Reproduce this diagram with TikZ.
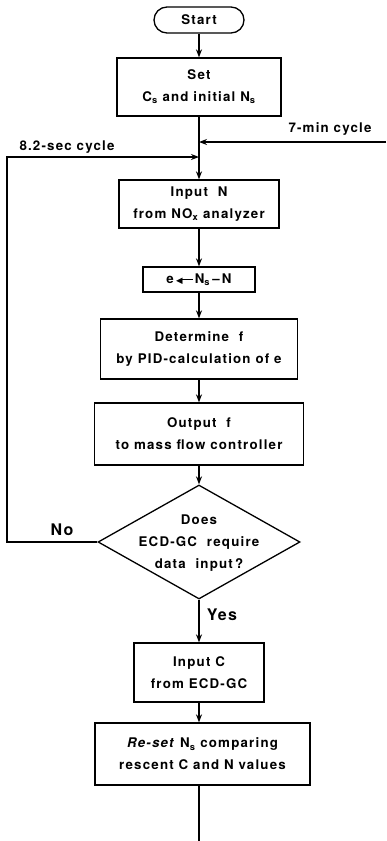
\documentclass[tikz,border=0pt]{standalone}
\usepackage{fontspec}
\setmainfont{TeX Gyre Heros}[LetterSpace=9]
\newfontfamily\dejavu{DejaVu Sans}
\usetikzlibrary{arrows.meta,shapes.geometric}
\newcommand{\fillarrow}{{\fontsize{8.5}{8.5}\selectfont\dejavu ◀}\kern-2pt\rule[3.3pt]{12pt}{1.2pt}}
\begin{document}
\begin{tikzpicture}[x=1pt,y=-1pt,
  line width=1.3pt,
  every node/.style={font=\bfseries\fontsize{13.3}{22}\selectfont},
  box/.style={draw, align=center, inner sep=0pt},
  big/.style={font=\bfseries\fontsize{16}{18}\selectfont},
  arr/.style={-{Stealth[length=8pt,width=6pt]}},
]
\useasboundingbox (0,0) rectangle (386,841);
\node[box, rounded corners=13pt, minimum width=90pt, minimum height=26pt] (start) at (199,20) {Start};
\node[box, minimum width=164pt, minimum height=58pt] (set) at (199,87) {Set\\C\textsubscript{s} and initial N\textsubscript{s}};
\node[box, minimum width=160pt, minimum height=48pt] (inputN) at (199,204) {Input\ \ N\\from NO\textsubscript{x} analyzer};
\node[box, minimum width=112pt, minimum height=25pt] (ebox) at (199,279.5) {e\,\fillarrow\,N\textsubscript{s}\,--\,N};
\node[box, minimum width=197pt, minimum height=60pt] (det) at (199,349) {Determine\ \ f\\by PID-calculation of e};
\node[box, minimum width=209pt, minimum height=62pt] (out) at (199,434) {Output\ \ f\\to mass flow controller};
\node[draw, diamond, minimum width=202pt, minimum height=114pt, inner sep=0pt] (dec) at (199,542) {};
\node[align=center] (dectext) at (199,543) {Does\\ECD-GC\ \ require\\data\ \ input\,?};
\node[box, minimum width=130pt, minimum height=59pt] (inC) at (199,672.5) {Input C\\from ECD-GC};
\node[box, minimum width=215pt, minimum height=62pt] (reset) at (202.5,754) {\textit{Re-set} N\textsubscript{s} comparing\\rescent C and N values};

\coordinate (j7) at (199,142);
\coordinate (j8) at (199,157);
\coordinate (r7) at (386,142);
\coordinate (lc) at (7,157);
\coordinate (endp) at (199,841);

\node (l7) at (330,129) {7-min cycle};
\node (l8) at (67,147) {8.2-sec cycle};
\node[big] (lno) at (62,530) {No};
\node[big] (lyes) at (222,615) {Yes};

\draw[arr] (start) -- (set);
\draw[arr] (set) -- (inputN);
\draw[arr] (r7) -- (j7);
\draw[arr] (dec.west) -| (lc) -- (j8);
\draw[arr] (inputN) -- (ebox);
\draw[arr] (ebox) -- (det);
\draw[arr] (det) -- (out);
\draw[arr] (out) -- (dec.north);
\draw[arr] (dec.south) -- (inC);
\draw[arr] (inC.south) -- (inC.south |- reset.north);
\draw (inC.south |- reset.south) -- (endp);
\end{tikzpicture}
\end{document}
